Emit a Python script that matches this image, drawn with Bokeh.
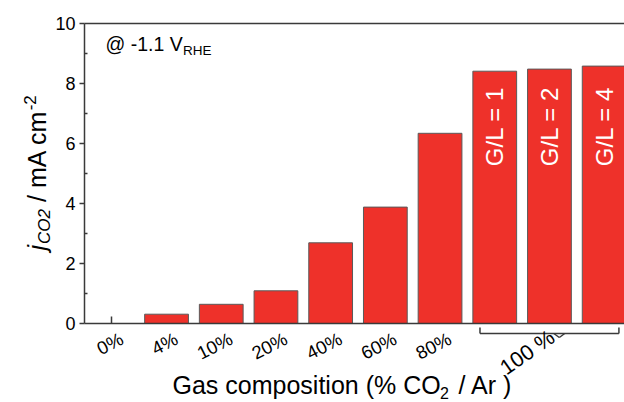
import math
from bokeh.plotting import figure
from bokeh.models import (Range1d, ColumnDataSource, LinearAxis, FixedTicker,
                          Label, LabelSet, Arrow)
from bokeh.embed import file_html
from bokeh.resources import INLINE
from bokeh.core.properties import value

# ---------------- data ----------------
categories = ["0%", "4%", "10%", "20%", "40%", "60%", "80%", "G/L = 1", "G/L = 2", "G/L = 4"]
j_co2 = [0.0, 0.31, 0.64, 1.09, 2.69, 3.88, 6.34, 8.41, 8.48, 8.58]
tick_labels = ["0%", "4%", "10%", "20%", "40%", "60%", "80%"]
group_label = "100 %"
group_members = ["G/L = 1", "G/L = 2", "G/L = 4"]
y_ticks = [0, 2, 4, 6, 8, 10]
y_minor = [1, 3, 5, 7, 9]

# ---------------- layout ----------------
FONT = "Liberation Sans"
W, H = 624, 402
AX_LEFT_PX, AX_BOTTOM_PX = 84, 323    # where x=-0.5 and y=0 sit on the page
PX_PER_CAT, PX_PER_UNIT = 54.7, 30.0
AX = "#3a3a3a"
RED = "#ee312a"
K = 0.4   # empirical shift of the alphabetic baseline (fraction of font size)


def dx(px):  # page pixel -> data x
    return -0.5 + (px - AX_LEFT_PX) / PX_PER_CAT


def dy(py):  # page pixel -> data y
    return (AX_BOTTOM_PX - py) / PX_PER_UNIT


XA, XB = -0.5, dx(W)
p = figure(width=W, height=H, x_range=Range1d(dx(0), dx(W)), y_range=Range1d(dy(H), dy(0)),
           output_backend="svg", toolbar_location=None,
           min_border_left=0, min_border_top=0, min_border_right=0, min_border_bottom=0)
p.outline_line_color = None
p.grid.visible = False
p.background_fill_color = "white"
p.border_fill_color = "white"

# x axis: only the bottom line and the tick at the first category
xa = p.xaxis[0]
xa.fixed_location = 0
xa.bounds = (XA, XB)
xa.ticker = FixedTicker(ticks=[0])
xa.major_label_overrides = {0: ""}
xa.major_tick_in = 7
xa.major_tick_out = 0
xa.minor_tick_line_color = None
xa.axis_line_color = AX
xa.axis_line_width = 1.5
xa.major_tick_line_color = AX
xa.major_tick_line_width = 1.5

ya = p.yaxis[0]
ya.fixed_location = XA
ya.bounds = (0, 10)
ya.ticker = FixedTicker(ticks=y_ticks, minor_ticks=y_minor)
ya.major_tick_out = 5
ya.major_tick_in = 0
ya.minor_tick_in = 3
ya.minor_tick_out = 0
ya.axis_line_color = AX
ya.axis_line_width = 1.5
ya.major_tick_line_color = AX
ya.major_tick_line_width = 1.5
ya.minor_tick_line_color = AX
ya.minor_tick_line_width = 1.5
ya.major_label_standoff = 4
ya.major_label_text_font = FONT
ya.major_label_text_font_size = "18px"
ya.major_label_text_color = "black"

top = LinearAxis(ticker=FixedTicker(ticks=[]), fixed_location=10, bounds=(XA, XB),
                 axis_line_color=AX, axis_line_width=1.5,
                 major_tick_out=0, major_tick_in=0, minor_tick_out=0, minor_tick_in=0,
                 major_label_standoff=0)
p.add_layout(top, "above")

# bars
idx = list(range(len(categories)))
src = ColumnDataSource(dict(x=idx, top=j_co2, cat=categories))
p.vbar(x="x", top="top", width=0.8, source=src, fill_color=RED,
       line_color="#5a5a5a", line_width=1)

# labels inside the grouped bars
gi = [categories.index(c) for c in group_members]
gsrc = ColumnDataSource(dict(x=gi, y=[dy(126)] * len(gi), t=group_members))
p.text(x="x", y="y", text="t", source=gsrc, angle=math.pi / 2, text_align="center",
       text_baseline="middle", text_color="white", text_font=value(FONT),
       text_font_size="24px")

# x tick labels (rotated, their ends just right of the category centre)
tsrc = ColumnDataSource(dict(x=[categories.index(c) for c in tick_labels],
                             y=[dy(337)] * len(tick_labels), t=tick_labels))
p.add_layout(LabelSet(x="x", y="y", text="t", source=tsrc, angle=math.radians(27),
                      text_align="right", text_baseline="middle", x_offset=10,
                      text_font=value(FONT), text_font_size="18.5px", text_color="black"))

# bracket for the 100 % group
mid = gi[1]
half = 1.27
yl, yt, yn = dy(333), dy(327), dy(337)
bx0 = [mid - half, mid - half, mid + half, mid + 0.08, mid + 0.18]
by0 = [yt, yl, yl, yl, yn]
bx1 = [mid - half, mid + half, mid + half, mid + 0.18, mid + 0.28]
by1 = [yl, yl, yt, yn, yl]
bsrc = ColumnDataSource(dict(x0=bx0, y0=by0, x1=bx1, y1=by1))
p.add_layout(Arrow(start=None, end=None, x_start="x0", y_start="y0", x_end="x1",
                   y_end="y1", source=bsrc, line_color=AX, line_width=1.5))

p.add_layout(Label(x=dx(527), y=dy(352), text=group_label, angle=math.radians(35),
                   text_align="center", text_baseline="middle", text_font=FONT,
                   text_font_size="21.5px", text_color="black"))


def hlabel(text, px, baseline_py, fs, style="normal"):
    p.add_layout(Label(x=dx(px), y=dy(baseline_py - K * fs), text=text,
                       text_font=FONT, text_font_size=f"{fs}px", text_font_style=style,
                       text_color="black", text_baseline="alphabetic", text_align="left"))


def vlabel(text, baseline_px, start_py, fs, style="normal"):
    p.add_layout(Label(x=dx(baseline_px - K * fs), y=dy(start_py), text=text,
                       angle=math.pi / 2, text_font=FONT, text_font_size=f"{fs}px",
                       text_font_style=style, text_color="black",
                       text_baseline="alphabetic", text_align="left"))


# x axis title
hlabel("Gas composition (% CO", 172, 394, 25)
hlabel("2", 439.5, 399, 16)
hlabel("/ Ar )", 458, 394, 25)

# y axis title (rotated pieces)
vlabel("j", 46, 250, 25, "italic")
vlabel("CO2", 51, 243.5, 17, "italic")
vlabel("/ mA cm", 46, 201.5, 25)
vlabel("-2", 36, 109.8, 17)

# potential annotation
hlabel("@ -1.1 V", 105, 51, 19.5)
hlabel("RHE", 182.5, 55, 13.5)

open("out.html", "w").write(file_html(p, INLINE))
